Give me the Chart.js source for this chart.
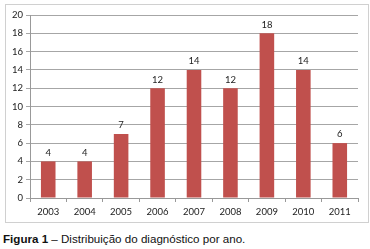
<!DOCTYPE html>
<html>
<head>
<meta charset="utf-8">
<script src="https://cdn.jsdelivr.net/npm/chart.js@4/dist/chart.umd.min.js"></script>
<style>
    html, body { margin: 0; padding: 0; background: #fff; }
    body { width: 370px; height: 249px; position: relative; overflow: hidden; }
    #box {
        position: absolute; left: 5px; top: 4px; width: 362px; height: 217px;
        border: 1px solid #d0d0d0;
    }
    #caption {
        position: absolute; left: 3px; top: 232px; white-space: nowrap;
        font: 11.6px "Liberation Sans", Arial, sans-serif; color: #111;
    }
</style>
</head>
<body>
<div id="box"><canvas id="chart" width="362" height="217"></canvas></div>
<div id="caption"><b>Figura 1</b> – Distribuição do diagnóstico por ano.</div>
<script>
    "use strict";

    // dados
    const years = ["2003", "2004", "2005", "2006", "2007", "2008", "2009", "2010", "2011"];
    const cases = [4, 4, 7, 12, 14, 12, 18, 14, 6];
    const yTicks = [0, 2, 4, 6, 8, 10, 12, 14, 16, 18, 20];

    const tickFont = { family: "Lato, 'Open Sans', sans-serif", size: 9.5 };

    const valueLabels = {
        id: "valueLabels",
        afterDatasetsDraw(chart) {
            const ctx = chart.ctx;
            const meta = chart.getDatasetMeta(0);
            ctx.save();
            ctx.font = `${tickFont.size}px ${tickFont.family}`;
            ctx.fillStyle = "#222";
            ctx.textAlign = "center";
            ctx.textBaseline = "bottom";
            meta.data.forEach((bar, i) => {
                ctx.fillText(String(cases[i]), bar.x, bar.y - 4);
            });
            ctx.restore();
        },
    };

    new Chart(document.getElementById("chart").getContext("2d"), {
        type: "bar",
        data: {
            labels: years,
            datasets: [{
                data: cases,
                backgroundColor: "#c0504d",
                categoryPercentage: 1,
                barPercentage: 0.4,
            }],
        },
        options: {
            responsive: false,
            animation: false,
            events: [],
            layout: { padding: { left: 0, right: 10, top: 10, bottom: 0 } },
            plugins: { legend: { display: false }, tooltip: { enabled: false } },
            scales: {
                x: {
                    grid: { drawOnChartArea: false, drawTicks: true, tickLength: 4, color: "#999", offset: true },
                    border: { color: "#999" },
                    ticks: { font: tickFont, color: "#222", padding: 4, maxRotation: 0 },
                    afterFit: s => { s.height = 24; },
                },
                y: {
                    min: 0,
                    max: 20,
                    afterBuildTicks: s => { s.ticks = yTicks.map(v => ({ value: v })); },
                    grid: { color: "#a6a6a6", tickLength: 4 },
                    border: { color: "#999" },
                    ticks: { font: tickFont, color: "#222", padding: 3 },
                    afterFit: s => { s.width = 24; },
                },
            },
        },
        plugins: [valueLabels],
    });
</script>
</body>
</html>
